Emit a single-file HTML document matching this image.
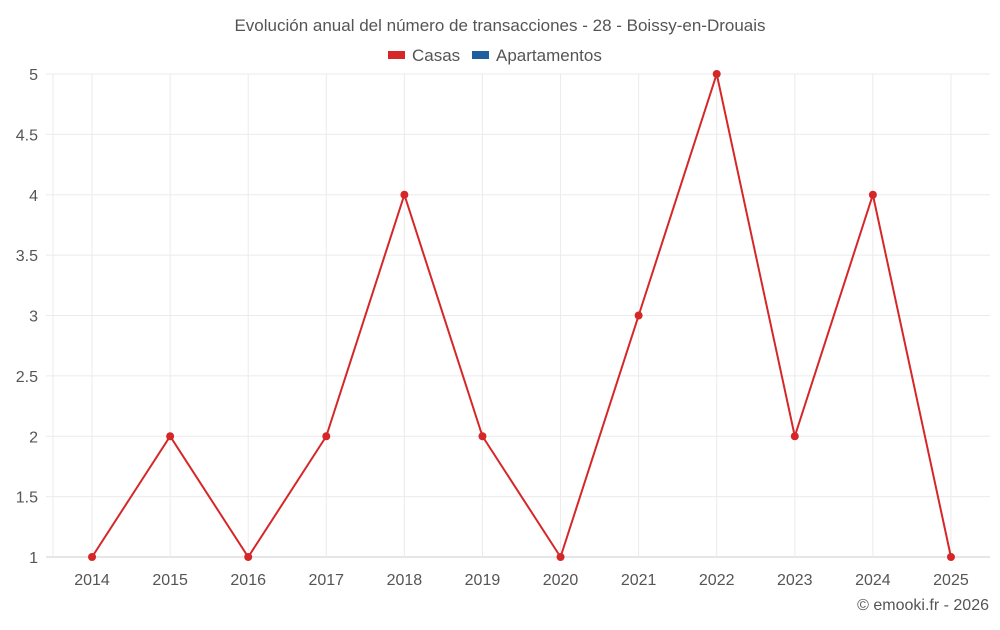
<!DOCTYPE html>
<html><head><meta charset="utf-8">
<style>
body{margin:0;background:#fff;font-family:"Liberation Sans",Roboto,sans-serif;}
svg text{font-family:"Liberation Sans",sans-serif;}
</style></head>
<body>
<svg id="chart" width="1000" height="625">
<text x="500" y="31" text-anchor="middle" font-size="17" fill="#555">Evolución anual del número de transacciones - 28 - Boissy-en-Drouais</text>
<g>
<g><rect x="388" y="51" width="17" height="8" fill="#d62728"/><text x="412" y="61" font-size="17" fill="#555">Casas</text></g>
<g><rect x="472" y="51" width="17" height="8" fill="#1f5f9f"/><text x="496" y="61" font-size="17" fill="#555">Apartamentos</text></g>
</g>
<g id="grid"></g><g id="axes"></g><g id="series"></g>
<text x="989" y="610" text-anchor="end" font-size="16" fill="#555">© emooki.fr - 2026</text>
</svg>
<script>
const categories=["2014","2015","2016","2017","2018","2019","2020","2021","2022","2023","2024","2025"];
const casasValues=[1,2,1,2,4,2,1,3,5,2,4,1];
const yTicks=[1,1.5,2,2.5,3,3.5,4,4.5,5];
const yTickLabels=["1","1.5","2","2.5","3","3.5","4","4.5","5"];
const L=53,R=990,T=74,B=557,yMin=1,yMax=5;
const bw=(R-L)/categories.length;
const xs=i=>L+bw*(i+0.5);
const ys=v=>B-(v-yMin)/(yMax-yMin)*(B-T);
const NS="http://www.w3.org/2000/svg";
function mk(t,a,p){const e=document.createElementNS(NS,t);for(const k in a)e.setAttribute(k,a[k]);p.appendChild(e);return e;}
const grid=document.getElementById('grid'),axes=document.getElementById('axes'),ser=document.getElementById('series');
yTicks.forEach((v,i)=>{
 const y=ys(v);
 const g=mk('line',{x1:46,x2:R,y1:y,y2:y,stroke:i==0?'#ccc':'#ebebeb','stroke-width':1},grid);
 
 
 const t=mk('text',{x:38,y:y+6,'text-anchor':'end','font-size':16,fill:'#555'},axes);
 t.textContent=yTickLabels[i];
 
 
});
const lg=mk('line',{x1:L,x2:L,y1:T,y2:B,stroke:'#ebebeb'},grid);


categories.forEach((c,i)=>{
 const x=xs(i);
 const g=mk('line',{x1:x,x2:x,y1:T,y2:B,stroke:'#ebebeb'},grid);
 
 
 const t=mk('text',{x:x,y:585,'text-anchor':'middle','font-size':16,fill:'#555'},axes);
 t.textContent=c;
 
 
});
const pts=casasValues.map((v,i)=>xs(i)+','+ys(v)).join(' ');
const pl=mk('polyline',{points:pts,fill:'none',stroke:'#d62728','stroke-width':2},ser);


casasValues.forEach((v,i)=>{
 const c=mk('circle',{cx:xs(i),cy:ys(v),r:4,fill:'#d62728'},ser);
 
 
});
</script>
</body></html>
